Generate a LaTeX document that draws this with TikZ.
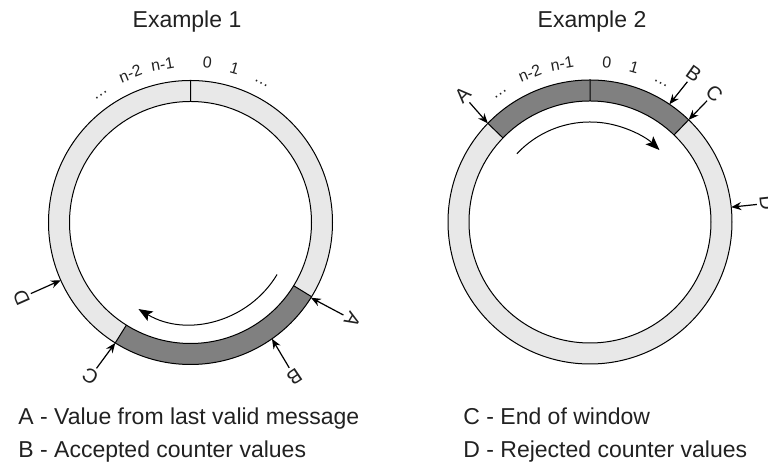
\documentclass[tikz,border=0pt]{standalone}
\usepackage{fontspec}
\setmainfont{Liberation Sans}
\usetikzlibrary{arrows.meta}
\definecolor{gris}{rgb}{0.91,0.91,0.91}
\definecolor{grisfonce}{rgb}{0.5,0.5,0.5}
\definecolor{texte}{rgb}{0.13,0.13,0.13}

\begin{document}
\begin{tikzpicture}[x=0.5pt,y=0.5pt,
    anneau/.style={draw=black, line width=0.5pt},
    fleche/.style={-{Stealth[length=5pt,width=4pt]}, line width=0.6pt},
    rotation/.style={-{Stealth[length=7pt,width=5.5pt,inset=1.5pt]}, line width=0.5pt},
    repere/.style={font=\fontsize{8}{9}\selectfont, text=texte, anchor=base, inner sep=0pt},
    lettre/.style={font=\fontsize{10}{12}\selectfont, text=texte, inner sep=1.5pt},
    titre/.style={font=\fontsize{11.5}{14}\selectfont, text=texte, anchor=base},
    legende/.style={font=\fontsize{11.5}{14}\selectfont, text=texte, anchor=base west, inner sep=0pt}]
  \useasboundingbox (0,0) rectangle (768,470);

  % Titres
  \node[titre] (titre1) at (187,442) {Example 1};
  \node[titre] (titre2) at (592,442) {Example 2};

  % Anneaux et numéros des compteurs
  \foreach \cx/\cy/\nom/\deb/\fin in {190.5/247.5/un/-122/-31.5, 590/248/deux/46/136} {
    \begin{scope}[shift={(\cx,\cy)}]
      \fill[gris, even odd rule] (0,0) circle (142) (0,0) circle (121);
      \fill[grisfonce] (\deb:142) arc[start angle=\deb, end angle=\fin, radius=142]
        -- (\fin:121) arc[start angle=\fin, end angle=\deb, radius=121] -- cycle;
      \draw[anneau] (0,0) circle (142) (0,0) circle (121);
      \draw[anneau] (90:121) -- (90:142) (\deb:121) -- (\deb:142) (\fin:121) -- (\fin:142);
      \foreach \a/\t in {125/\dots, 112/n-2, 100/n-1, 84/0, 74/1, 63/\dots}
        \node[repere, rotate=\a-90] (\nom-\a) at (\a:155) {\t};
    \end{scope}
  }

  % Exemple 1
  \begin{scope}[shift={(190.5,247.5)}]
    \foreach \l/\al/\rl/\ap in {A/-31/189/-32, B/-56/186/-55, C/-123/184/-122, D/-156/185/-156} {
      \coordinate (pt1\l) at (\ap:142);
      \node[lettre, rotate=\al-90] (lettre1\l) at (\al:\rl) {\l};
      \draw[fleche] (lettre1\l) -- (pt1\l);
    }
    \draw[rotation] (-31:101) arc[start angle=-31, end angle=-121, radius=101];
  \end{scope}

  % Exemple 2
  \begin{scope}[shift={(590,248)}]
    \foreach \l/\al/\rl/\ap in {A/135/180/136, B/55/181/56, C/46/179/46, D/6/178/6} {
      \coordinate (pt2\l) at (\ap:142);
      \node[lettre, rotate=\al-90] (lettre2\l) at (\al:\rl) {\l};
      \draw[fleche] (lettre2\l) -- (pt2\l);
    }
    \draw[rotation] (137:100) arc[start angle=137, end angle=46, radius=100];
  \end{scope}

  % Légende
  \node[legende] (legA) at (18,45) {A - Value from last valid message};
  \node[legende] (legB) at (18,12) {B - Accepted counter values};
  \node[legende] (legC) at (463,45) {C - End of window};
  \node[legende] (legD) at (463,12) {D - Rejected counter values};
\end{tikzpicture}
\end{document}
